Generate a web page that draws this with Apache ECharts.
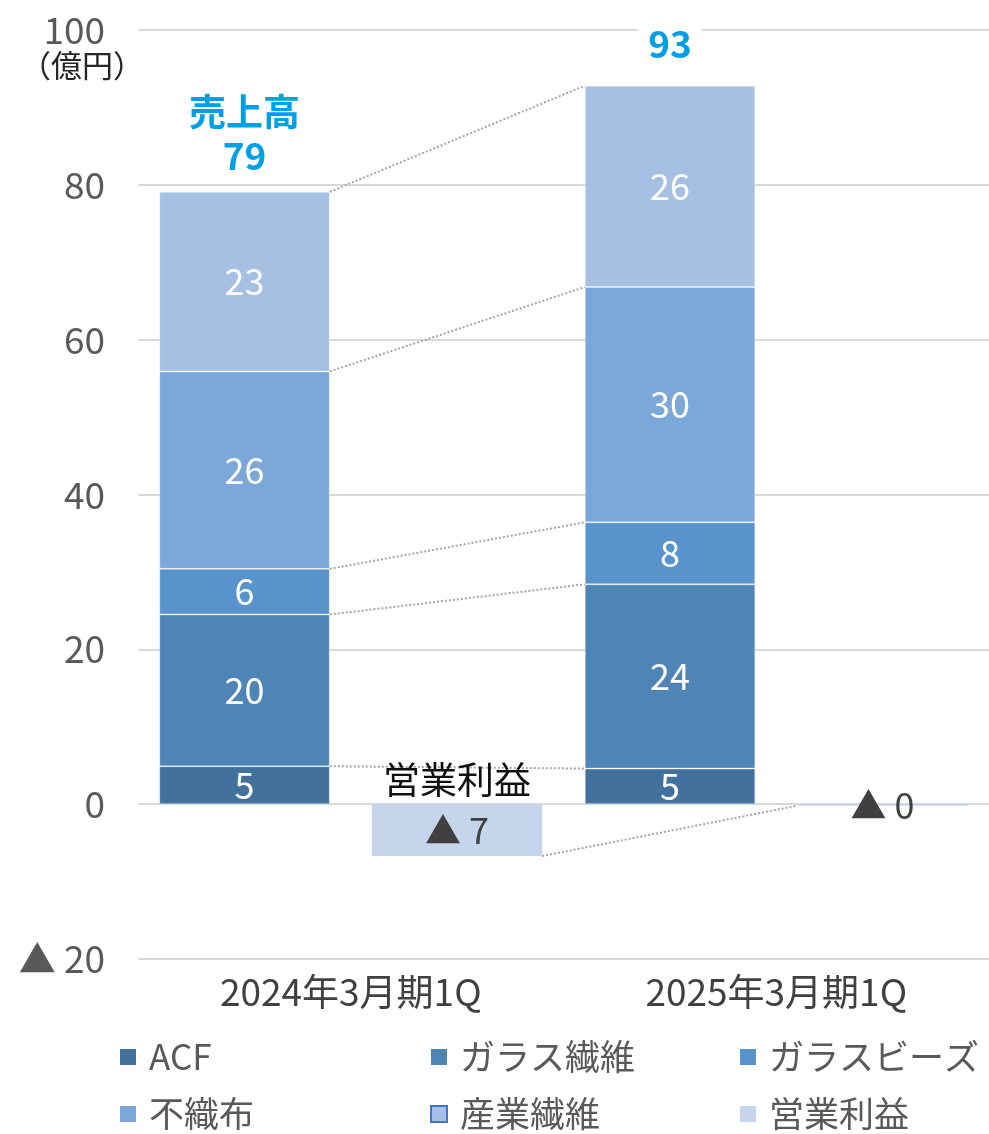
<!DOCTYPE html>
<html>
<head>
<meta charset="utf-8">
<script src="https://cdn.jsdelivr.net/npm/echarts@6/dist/echarts.min.js"></script>
<style>
  html, body { margin: 0; padding: 0; background: #fff; }
  #main { width: 989px; height: 1134px; }
</style>
</head>
<body>
<div id="main"></div>
<script>
const categories = ['2024年3月期1Q', '2025年3月期1Q'];
const acf = [4.9, 4.6];
const glassFiber = [19.6, 23.8];
const glassBeads = [5.9, 8.0];
const nonwoven = [25.5, 30.4];
const industrial = [23.2, 26.0];
const profit = [-6.7, -0.2];
const salesTotal = [79, 93];
const salesTitle = '売上高';
const profitTitle = '営業利益';
const unitLabel = '（億円）';

const FONT = '"Noto Sans CJK JP", "Noto Sans", sans-serif';
const catGap = 0.10;
const barGap = 0.246;

const salesSeries = [
  { name: 'ACF', data: acf, color: '#41719C' },
  { name: 'ガラス繊維', data: glassFiber, color: '#4E84B6' },
  { name: 'ガラスビーズ', data: glassBeads, color: '#5893CB' },
  { name: '不織布', data: nonwoven, color: '#7BA8D8' },
  { name: '産業繊維', data: industrial, color: '#A5C0E3' }
];

// cumulative boundaries for the dotted connectors
const connectors = [];
let sum0 = 0, sum1 = 0;
salesSeries.forEach(s => {
  sum0 += s.data[0];
  sum1 += s.data[1];
  connectors.push([0, sum0, sum1, 0]);
});
connectors.push([0, profit[0], profit[1], 1]);

const chart = echarts.init(document.getElementById('main'));

const series = salesSeries.map(s => ({
  name: s.name,
  type: 'bar',
  stack: 'sales',
  data: s.data,
  barCategoryGap: '10%',
  barGap: '24.6%',
  itemStyle: { color: s.color, borderColor: 'rgba(255,255,255,0.3)', borderWidth: 1 },
  label: {
    show: true,
    position: 'inside',
    color: '#fff',
    fontFamily: FONT,
    fontSize: 36,
    formatter: p => Math.round(p.value)
  }
}));

// total labels on top of the sales stack
series.push({
  name: 'total',
  type: 'bar',
  stack: 'sales',
  data: [
    { value: 0, label: { distance: 14 } },
    { value: 0, label: { distance: 20 } }
  ],
  itemStyle: { color: 'transparent' },
  label: {
    show: true,
    position: 'top',
    color: '#00A0E9',
    fontFamily: FONT,
    fontSize: 37,
    fontWeight: 'bold',
    lineHeight: 44,
    backgroundColor: '#fff',
    padding: [0, 10],
    formatter: p => (p.dataIndex === 0 ? salesTitle + '\n' : '') + salesTotal[p.dataIndex]
  }
});

// "営業利益" title above the first profit bar
series.push({
  name: 'profitTitle',
  type: 'bar',
  stack: 'profit',
  data: [0, '-'],
  itemStyle: { color: 'transparent' },
  label: {
    show: true,
    position: 'top',
    distance: 6,
    color: '#111',
    fontFamily: FONT,
    fontSize: 37,
    formatter: profitTitle
  }
});

series.push({
  name: '営業利益',
  type: 'bar',
  stack: 'profit',
  data: profit,
  itemStyle: { color: '#C5D5EB' },
  label: {
    show: true,
    position: 'inside',
    color: '#404040',
    fontFamily: FONT,
    fontSize: 36,
    formatter: p => '▲ ' + Math.round(-p.value)
  }
});

series.push({
  type: 'custom',
  name: 'connectors',
  data: connectors,
  encode: { x: 0, y: 1 },
  silent: true,
  z: 1,
  renderItem: (params, api) => {
    const band = api.size([1, 0])[0];
    const total = band * (1 - catGap);
    const barW = total / (2 + barGap);
    const p0 = api.coord([0, api.value(1)]);
    const p1 = api.coord([1, api.value(2)]);
    let x1, x2;
    if (api.value(3) === 0) {
      x1 = p0[0] - total / 2 + barW;
      x2 = p1[0] - total / 2;
    } else {
      x1 = p0[0] + total / 2;
      x2 = p1[0] + total / 2 - barW;
    }
    return {
      type: 'line',
      shape: { x1: x1, y1: p0[1], x2: x2, y2: p1[1] },
      style: { stroke: '#A6A6A6', lineWidth: 2, lineDash: [2, 2] }
    };
  }
});

const legendBase = {
  orient: 'vertical',
  icon: 'rect',
  itemWidth: 16,
  itemHeight: 16,
  itemGap: 17,
  top: 1037,
  padding: 0,
  itemStyle: { borderWidth: 0 },
  textStyle: { fontFamily: FONT, fontSize: 35, color: '#595959', lineHeight: 40, padding: [0, 0, 0, 8] }
};

const option = {
  animation: false,
  backgroundColor: '#fff',
  grid: { left: 138, right: 0, top: 30, bottom: 175 },
  xAxis: {
    type: 'category',
    data: categories,
    axisLine: { show: false, onZero: false },
    axisTick: { show: false },
    axisLabel: { fontFamily: FONT, fontSize: 37, color: '#404040', margin: 14 }
  },
  yAxis: {
    type: 'value',
    min: -20,
    max: 100,
    interval: 20,
    axisLine: { show: false },
    axisTick: { show: false },
    splitLine: { lineStyle: { color: '#D9D9D9', width: 2 } },
    axisLabel: {
      fontFamily: FONT,
      fontSize: 37,
      color: '#595959',
      margin: 33,
      formatter: v => (v < 0 ? '▲ ' + (-v) : v)
    }
  },
  legend: [
    Object.assign({}, legendBase, { left: 120, data: ['ACF', '不織布'] }),
    Object.assign({}, legendBase, {
      left: 430,
      data: ['ガラス繊維', { name: '産業繊維', itemStyle: { borderColor: '#4472C4', borderWidth: 2 } }]
    }),
    Object.assign({}, legendBase, { left: 740, data: ['ガラスビーズ', '営業利益'] })
  ],
  graphic: [{
    type: 'text',
    left: 20,
    top: 50,
    style: { text: unitLabel, font: '31px ' + FONT, fill: '#262626' }
  }],
  series: series
};

chart.setOption(option);
</script>
</body>
</html>
